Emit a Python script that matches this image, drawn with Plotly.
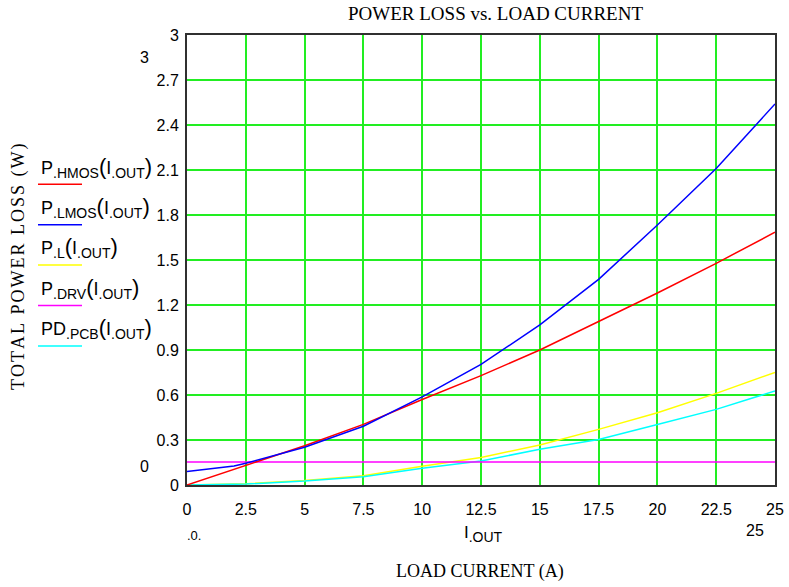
import plotly.graph_objects as go

# ---- data ----
I_OUT = [0, 2, 2.5, 5, 7.5, 10, 12.5, 15, 17.5, 20, 22.5, 25]
P_HMOS = [0, 0.103, 0.130, 0.262, 0.404, 0.570, 0.729, 0.900, 1.090, 1.280, 1.478, 1.685]
P_LMOS = [0.090, 0.127, 0.145, 0.252, 0.392, 0.588, 0.804, 1.067, 1.371, 1.733, 2.110, 2.540]
P_L = [0, 0.005, 0.008, 0.030, 0.062, 0.125, 0.184, 0.267, 0.371, 0.482, 0.611, 0.751]
P_DRV = [0.153] * len(I_OUT)
PD_PCB = [0, 0.004, 0.006, 0.026, 0.055, 0.111, 0.160, 0.238, 0.304, 0.404, 0.504, 0.627]

SUB = "<sub><span style='font-size:14px'>{}</span></sub>"
PAR_O = "<span style='font-size:22px'>(</span>"
PAR_C = "<span style='font-size:22px'>)</span>"


def label(main, sub):
    return main + SUB.format(sub) + PAR_O + "I" + SUB.format(".OUT") + PAR_C


series_names = [
    label("P", ".HMOS"),
    label("P", ".LMOS"),
    label("P", ".L"),
    label("P", ".DRV"),
    label("PD", ".PCB"),
]
series_values = [P_HMOS, P_LMOS, P_L, P_DRV, PD_PCB]
series_colors = ["#ff0000", "#0000ff", "#ffff00", "#ff00ff", "#00ffff"]

# ---- layout geometry (pixels) ----
W, H = 789, 587
L, R, T, B = 187, 775, 35, 485


def px(x):
    return (x - L) / (R - L)


def py(y):
    return (B - y) / (B - T)


fig = go.Figure()
order = [2, 4, 3, 0, 1]
for i in order:
    fig.add_trace(go.Scatter(x=I_OUT, y=series_values[i], mode="lines",
                             line=dict(color=series_colors[i], width=1.5),
                             showlegend=False, hoverinfo="skip"))

ann = []
shapes = []
sans = "Liberation Sans, Arial, sans-serif"
serif = "Liberation Serif, Times New Roman, serif"

# custom legend (labels above short colour lines)
for k in range(5):
    yc = 167 + 40.4 * k
    ann.append(dict(text=series_names[k], x=px(39), y=py(yc), xref="paper", yref="paper",
                    xanchor="left", yanchor="middle", showarrow=False,
                    font=dict(family=sans, size=18, color="black")))
    ly = 184.3 + 40.4 * k
    shapes.append(dict(type="line", xref="paper", yref="paper",
                       x0=px(38), x1=px(82), y0=py(ly), y1=py(ly),
                       line=dict(color=series_colors[k], width=1.5)))

# titles
ann.append(dict(text="POWER LOSS vs. LOAD CURRENT", x=px(495), y=py(13.5), xref="paper", yref="paper",
                xanchor="center", yanchor="middle", showarrow=False,
                font=dict(family=serif, size=19, color="black")))
ytitle = "<span style='font-size:8px'> </span>".join(list("TOTAL POWER LOSS (W)"))
ann.append(dict(text=ytitle, x=px(18), y=py(267), xref="paper", yref="paper",
                xanchor="center", yanchor="middle", showarrow=False, textangle=-90,
                font=dict(family=serif, size=18, color="black")))
ann.append(dict(text="LOAD CURRENT (A)", x=px(480), y=py(571.5), xref="paper", yref="paper",
                xanchor="center", yanchor="middle", showarrow=False,
                font=dict(family=serif, size=18, color="black")))

# extra range markers
for txt, x, y, sz in [("3", 144, 57.5, 16), ("0", 144, 466, 16), ("25", 755, 530, 16),
                      ("I" + SUB.format(".OUT"), 483, 534, 17), (".0.", 194, 535, 13)]:
    ann.append(dict(text=txt, x=px(x), y=py(y), xref="paper", yref="paper",
                    xanchor="center", yanchor="middle", showarrow=False,
                    font=dict(family=sans, size=sz, color="black")))

fig.update_layout(
    width=W, height=H,
    margin=dict(l=L, r=W - R, t=T, b=H - B, pad=0),
    paper_bgcolor="white", plot_bgcolor="white",
    annotations=ann, shapes=shapes,
    xaxis=dict(range=[0, 25], tick0=0, dtick=2.5, showgrid=True, gridcolor="#22ee22", gridwidth=2,
               zeroline=False, showline=True, linecolor="#303030", linewidth=2, mirror=True,
               ticks="", ticklabelstandoff=9, automargin=False,
               tickfont=dict(family=sans, size=16, color="black")),
    yaxis=dict(range=[0, 3], tick0=0, dtick=0.3, showgrid=True, gridcolor="#22ee22", gridwidth=2,
               zeroline=False, showline=True, linecolor="#303030", linewidth=2, mirror=True,
               ticks="", ticklabelstandoff=3, automargin=False,
               tickfont=dict(family=sans, size=16, color="black")),
)

fig.write_html("out.html")
